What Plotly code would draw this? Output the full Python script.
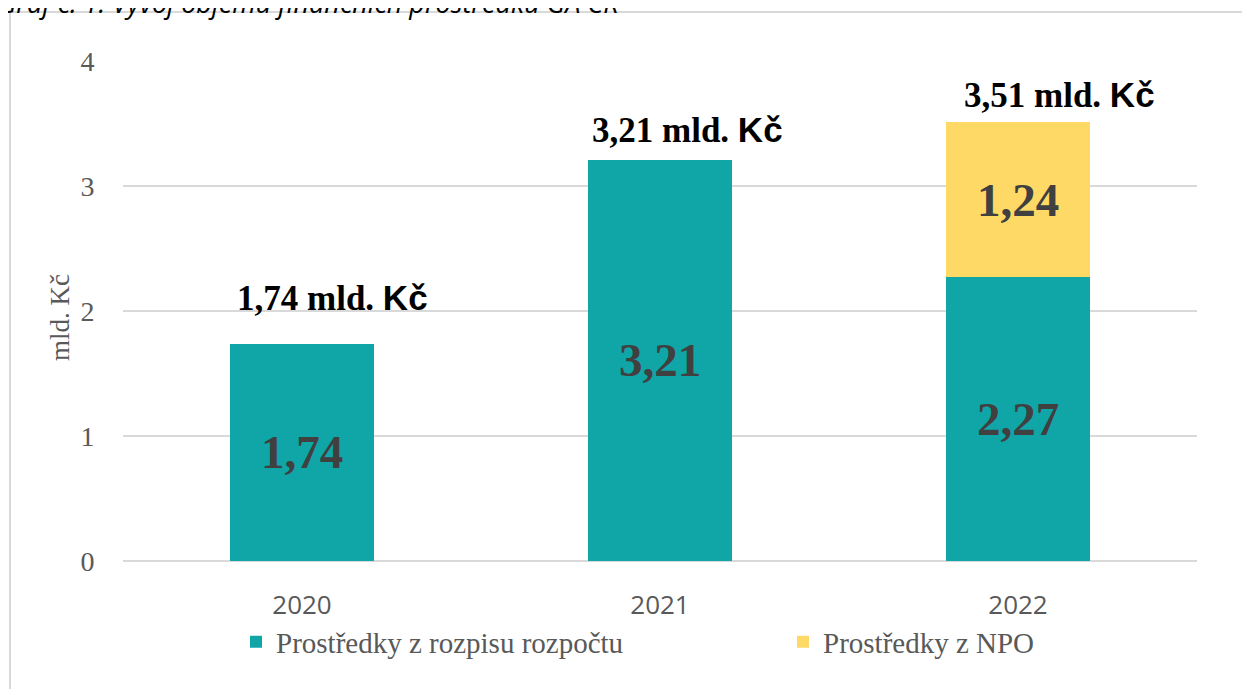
import plotly.graph_objects as go

# ---- data ----
years = ["2020", "2021", "2022"]
budget = [1.74, 3.21, 2.27]          # Prostředky z rozpisu rozpočtu
npo = [None, None, 1.24]             # Prostředky z NPO
series_names = ["Prostředky z rozpisu rozpočtu", "Prostředky z NPO"]
y_ticks = [0, 1, 2, 3, 4]
title_text = "Graf č. 1: Vývoj objemu finančních prostředků GA ČR"
y_title = "mld. Kč"

def cz(v):
    return "" if v is None else f"{v:.2f}".replace(".", ",")

totals = [b + (n or 0) for b, n in zip(budget, npo)]

# ---- style ----
TEAL = "#10A6A8"
YELLOW = "#FFD966"
GRID = "#D9D9D9"
TICK = "#595959"
SERIF = "Liberation Serif"
SANS = "Liberation Sans"

OFF = 8  # page body margin offset
W, H = 1250, 689
L, R, T, B = 123 - OFF, 53 + OFF, 61 - OFF, 128 + OFF
pw, ph = W - L - R, H - T - B

def px_x(x):  # screen px -> paper
    return (x - OFF - L) / pw

def px_y(y):
    return (H - B - (y - OFF)) / ph

fig = go.Figure()
fig.add_trace(go.Bar(
    x=years, y=budget, name=series_names[0], marker=dict(color=TEAL, line=dict(width=0)),
    text=[f"<b>{cz(v)}</b>" for v in budget], textposition="inside", insidetextanchor="middle",
    textfont=dict(family=SERIF, size=47, color="#404040"),
    hoverinfo="skip", legend="legend",
))
fig.add_trace(go.Bar(
    x=years, y=[0 if v is None else v for v in npo], name=series_names[1],
    marker=dict(color=YELLOW, line=dict(width=0)),
    text=[f"<b>{cz(v)}</b>" if v is not None else "" for v in npo],
    textposition="inside", insidetextanchor="middle",
    textfont=dict(family=SERIF, size=47, color="#404040"),
    hoverinfo="skip", legend="legend2",
))

# total labels above bars (x given as category index)
label_xshift = [30, 27, 41]
label_yshift = [46, 30, 27]
for i, tot in enumerate(totals):
    fig.add_annotation(
        x=i, y=tot, xref="x", yref="y", showarrow=False,
        xanchor="center", yanchor="middle",
        xshift=label_xshift[i], yshift=label_yshift[i],
        text=f"<b>{cz(tot)} mld. <span style='font-family:{SANS}'>Kč</span></b>",
        font=dict(family=SERIF, size=35, color="#000000"),
    )

# y axis title
fig.add_annotation(
    x=px_x(60), y=px_y(318), xref="paper", yref="paper", showarrow=False,
    text=y_title, textangle=-90, xanchor="center", yanchor="middle",
    font=dict(family=SERIF, size=27, color=TICK),
)

# cut-off caption at the very top
fig.add_annotation(
    x=px_x(-4), y=px_y(23), xref="paper", yref="paper", showarrow=False,
    text=f"<i>{title_text}</i>", xanchor="left", yanchor="bottom",
    font=dict(family="Open Sans", size=27, color="#000000"),
)

# outer chart-area border
fig.add_shape(
    type="rect", xref="paper", yref="paper",
    x0=px_x(10), x1=px_x(1300), y0=px_y(750), y1=px_y(12),
    line=dict(color=GRID, width=2), fillcolor="rgba(0,0,0,0)", layer="below",
)

fig.update_layout(
    width=W, height=H,
    margin=dict(l=L, r=R, t=T, b=B, autoexpand=False),
    paper_bgcolor="white", plot_bgcolor="white",
    barmode="stack", bargap=0.6,
    showlegend=True,
    legend=dict(
        x=px_x(236), y=px_y(642), xanchor="left", yanchor="middle",
        orientation="h", font=dict(family=SERIF, size=29, color=TICK),
        bgcolor="rgba(0,0,0,0)",
    ),
    legend2=dict(
        x=px_x(783), y=px_y(642), xanchor="left", yanchor="middle",
        orientation="h", font=dict(family=SERIF, size=29, color=TICK),
        bgcolor="rgba(0,0,0,0)",
    ),
    xaxis=dict(
        type="category", range=[-0.5, 2.5], autorange=False,
        showgrid=False, showline=False, zeroline=False,
        ticks="outside", ticklen=21, tickcolor="rgba(0,0,0,0)",
        tickfont=dict(family="Open Sans", size=26, color=TICK),
    ),
    yaxis=dict(
        range=[0, 4], autorange=False, tickvals=y_ticks, showgrid=True, gridcolor=GRID, gridwidth=2,
        zeroline=True, zerolinecolor=GRID, zerolinewidth=2, showline=False,
        ticks="outside", ticklen=22, tickcolor="rgba(0,0,0,0)",
        tickfont=dict(family=SERIF, size=28, color=TICK),
    ),
)

fig.write_html("out.html")
